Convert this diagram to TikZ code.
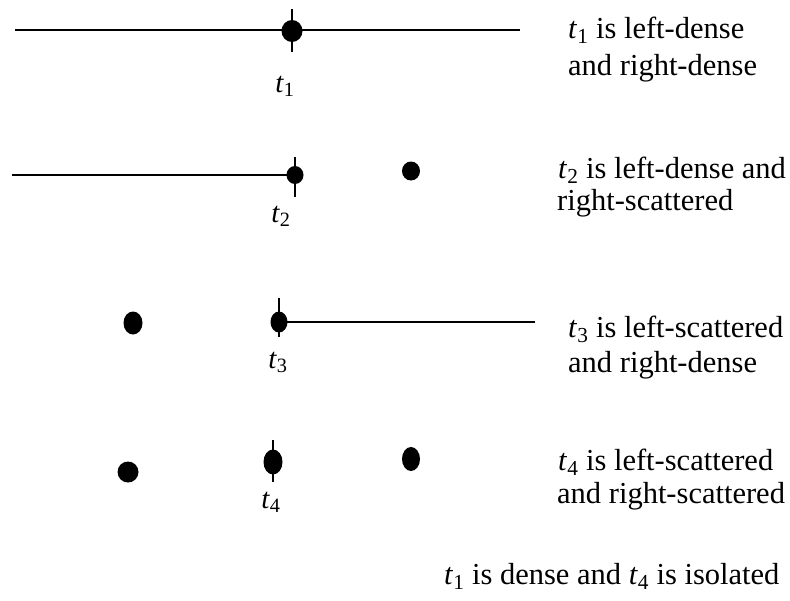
\documentclass[tikz,border=0pt]{standalone}
\usepackage{fontspec}
\setmainfont{Liberation Serif}
\usetikzlibrary{shapes.geometric}
\newcommand\tv[1]{\textit{t}\textsubscript{#1}}
\begin{document}
\begin{tikzpicture}[x=1pt,y=-1pt,
  dotpt/.style={ellipse,fill=black,draw=none,inner sep=0pt,minimum width=19pt,minimum height=22pt},
  tick/.style={line width=2pt},
  axis/.style={line width=1.5pt},
  lbl/.style={font=\fontsize{29}{33}\selectfont,inner sep=0pt,anchor=base},
  txt/.style={font=\fontsize{30.5}{34}\selectfont,anchor=base west,inner sep=0pt}]
\useasboundingbox (0,0) rectangle (790,600);
% row 1
\coordinate (a1) at (15,30);
\coordinate (b1) at (520,30);
\draw[axis] (a1) -- (b1);
\node[dotpt,minimum width=21pt] (p1) at (292,31) {};
\coordinate (u1) at (292,9);
\coordinate (d1) at (292,52);
\draw[tick] (u1) -- (d1);
\node[lbl] (l1) at (285,92) {\tv{1}};
\node[txt] (r1a) at (568,38) {\tv{1} is left-dense};
\node[txt] (r1b) at (568,75) {and right-dense};
% row 2
\coordinate (a2) at (12,175);
\coordinate (e2) at (295,175);
\draw[axis] (a2) -- (e2);
\node[dotpt,minimum width=17pt,minimum height=18pt] (p2) at (e2) {};
\coordinate (u2) at (295,157);
\coordinate (d2) at (295,197);
\draw[tick] (u2) -- (d2);
\node[dotpt,minimum width=18pt,minimum height=19pt] (q2) at (411,171) {};
\node[lbl] (l2) at (281,222) {\tv{2}};
\node[txt] (r2a) at (558,178) {\tv{2} is left-dense and};
\node[txt] (r2b) at (557,210) {right-scattered};
% row 3
\node[dotpt,minimum height=23pt] (q3) at (133,323) {};
\node[dotpt,minimum width=17pt,minimum height=21pt] (p3) at (279,322) {};
\coordinate (u3) at (279,298);
\coordinate (d3) at (279,337);
\draw[tick] (u3) -- (d3);
\coordinate (b3) at (535,322);
\draw[axis] (p3.center) -- (b3);
\node[lbl] (l3) at (278,368) {\tv{3}};
\node[txt] (r3a) at (568,337) {\tv{3} is left-scattered};
\node[txt] (r3b) at (568,372) {and right-dense};
% row 4
\node[dotpt,minimum width=21pt,minimum height=21pt] (q4a) at (128,472) {};
\node[dotpt,minimum width=19pt,minimum height=25pt] (p4) at (273,462) {};
\coordinate (u4) at (273,440);
\coordinate (d4) at (273,482);
\draw[tick] (u4) -- (d4);
\node[dotpt,minimum width=18pt,minimum height=24pt] (q4b) at (411,459) {};
\node[lbl] (l4) at (271,508) {\tv{4}};
\node[txt] (r4a) at (558,470) {\tv{4} is left-scattered};
\node[txt] (r4b) at (557,503) {and right-scattered};
% bottom
\node[txt] (s) at (444,584) {\tv{1} is dense and \tv{4} is isolated};
\end{tikzpicture}
\end{document}
